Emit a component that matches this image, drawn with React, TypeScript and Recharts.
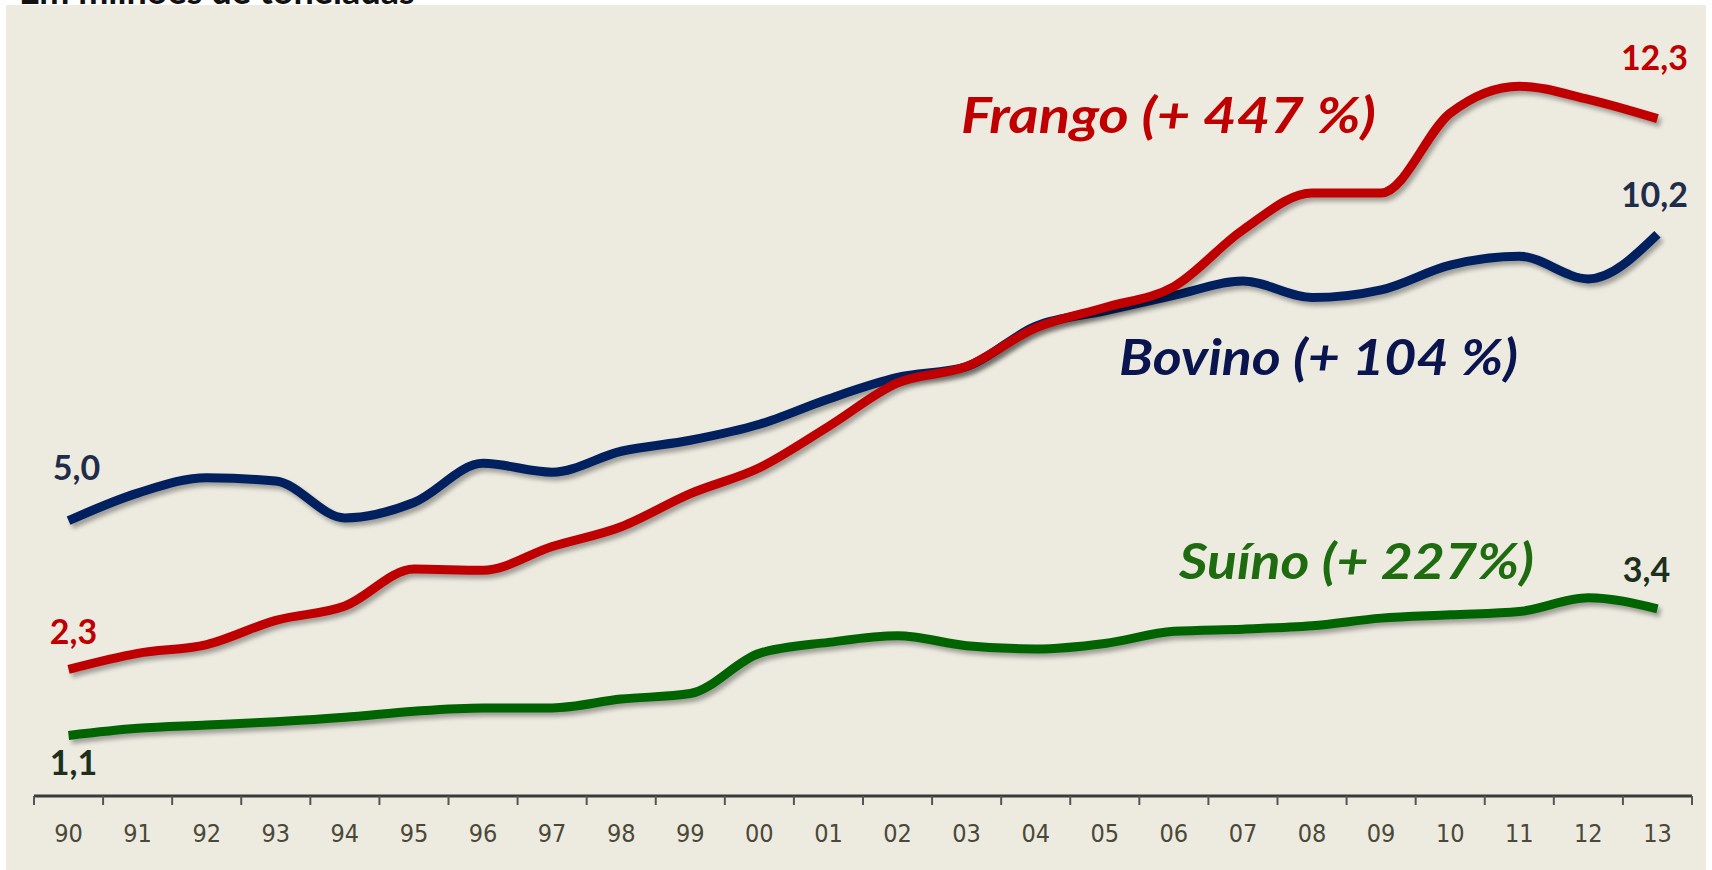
import { LineChart, Line, XAxis, YAxis, LabelList } from "recharts";

const YEARS = ["90", "91", "92", "93", "94", "95", "96", "97", "98", "99", "00", "01", "02", "03", "04", "05", "06", "07", "08", "09", "10", "11", "12", "13"];
const BOVINO = [5.0, 5.5, 5.78, 5.72, 5.05, 5.33, 6.04, 5.88, 6.26, 6.46, 6.75, 7.21, 7.6, 7.8, 8.53, 8.81, 9.09, 9.35, 9.05, 9.19, 9.64, 9.8, 9.39, 10.2];
const FRANGO = [2.3, 2.59, 2.75, 3.19, 3.45, 4.12, 4.1, 4.53, 4.89, 5.49, 5.96, 6.71, 7.5, 7.8, 8.5, 8.87, 9.25, 10.28, 10.95, 10.95, 12.4, 12.89, 12.65, 12.3];
const SUINO = [1.1, 1.23, 1.29, 1.35, 1.43, 1.54, 1.6, 1.6, 1.76, 1.86, 2.59, 2.79, 2.91, 2.73, 2.67, 2.77, 2.99, 3.03, 3.09, 3.23, 3.29, 3.35, 3.6, 3.4];

const W = 1712;
const H = 870;
const M = { top: 25, right: 20, bottom: 34, left: 34 };
const HALF = (W - M.left - M.right) / YEARS.length / 2;

const data = YEARS.map((year, i) => ({
  year,
  bovino: BOVINO[i],
  frango: FRANGO[i],
  suino: SUINO[i],
}));

const fmt = (v: number) => v.toFixed(1).replace(".", ",");

// labels only on first and last point, offsets in px from the point
const endLabel =
  (color: string, first: number[], last: number[]) => (props: any) => {
    const { x, y, value, index } = props;
    const isLast = index === YEARS.length - 1;
    if (index !== 0 && !isLast) return null;
    const [dx, dy] = isLast ? last : first;
    return (
      <text
        x={x + dx}
        y={y + dy}
        textAnchor="middle"
        dominantBaseline="central"
        fontFamily="Lato, 'Open Sans', sans-serif"
        fontWeight={700}
        fontSize={34}
        fill={color}
      >
        {fmt(Number(value))}
      </text>
    );
  };

const AxisTick = (props: any) => {
  const { x, y, payload, index } = props;
  return (
    <g>
      <line x1={x - HALF} x2={x - HALF} y1={y} y2={y + 9} stroke="#555" strokeWidth={2} />
      {index === YEARS.length - 1 && (
        <line x1={x + HALF} x2={x + HALF} y1={y} y2={y + 9} stroke="#555" strokeWidth={2} />
      )}
      <text
        x={x}
        y={y + 46}
        textAnchor="middle"
        fontFamily="'Liberation Sans Narrow', 'DejaVu Sans Condensed', sans-serif"
        fontSize={25}
        fill="#4a4838"
      >
        {payload.value}
      </text>
    </g>
  );
};

const annoFont = "Lato, 'Open Sans', sans-serif";

export default function App() {
  return (
    <div
      style={{
        position: "absolute",
        left: 0,
        top: 0,
        width: W,
        height: H,
        background: "#fff",
        overflow: "hidden",
      }}
    >
      <style>{`.recharts-line-curve{filter:drop-shadow(3px 4px 2px rgba(0,0,0,0.32));}`}</style>
      <svg width={W} height={6} style={{ position: "absolute", left: 0, top: 0 }}>
        <text x={19} y={4} fontFamily={annoFont} fontWeight={700} fontSize={36} fill="#111">
          Em milhões de toneladas
        </text>
      </svg>
      <div
        style={{
          position: "absolute",
          left: 6,
          top: 5,
          width: 1700,
          height: 865,
          background: "#EDEBE0",
        }}
      />
      <div style={{ position: "absolute", left: 0, top: 0 }}>
        <LineChart width={W} height={H} data={data} margin={M}>
          <XAxis
            dataKey="year"
            scale="band"
            interval={0}
            tickLine={false}
            tickSize={0}
            tickMargin={0}
            height={40}
            axisLine={{ stroke: "#3a3a3a", strokeWidth: 3 }}
            tick={<AxisTick />}
          />
          <YAxis hide domain={[0, 14]} />
          <Line
            dataKey="bovino"
            type="monotone"
            stroke="#002060"
            strokeWidth={9}
            dot={false}
            isAnimationActive={false}
          >
            <LabelList dataKey="bovino" content={endLabel("#1f2d4a", [8, -54], [-3, -41])} />
          </Line>
          <Line
            dataKey="frango"
            type="monotone"
            stroke="#C00000"
            strokeWidth={9}
            dot={false}
            isAnimationActive={false}
          >
            <LabelList dataKey="frango" content={endLabel("#C00000", [5, -39], [-3, -62])} />
          </Line>
          <Line
            dataKey="suino"
            type="monotone"
            stroke="#006400"
            strokeWidth={9}
            dot={false}
            isAnimationActive={false}
          >
            <LabelList dataKey="suino" content={endLabel("#1c301c", [5, 26], [-11, -40])} />
          </Line>
        </LineChart>
      </div>
      <svg width={W} height={H} style={{ position: "absolute", left: 0, top: 0, pointerEvents: "none" }}>
        <g fontFamily={annoFont} fontWeight={700} fontStyle="italic" fontSize={50} style={{ whiteSpace: "pre" }}>
          <text x={961} y={133} fill="#C00000" textLength={415} lengthAdjust="spacingAndGlyphs">
            {"Frango  (+ 447 %)"}
          </text>
          <text x={1119} y={375} fill="#0a1550" textLength={399} lengthAdjust="spacingAndGlyphs">
            {"Bovino (+ 104 %)"}
          </text>
          <text x={1179} y={579} fill="#1e6b10" textLength={355} lengthAdjust="spacingAndGlyphs">
            {"Suíno (+ 227%)"}
          </text>
        </g>
      </svg>
    </div>
  );
}
